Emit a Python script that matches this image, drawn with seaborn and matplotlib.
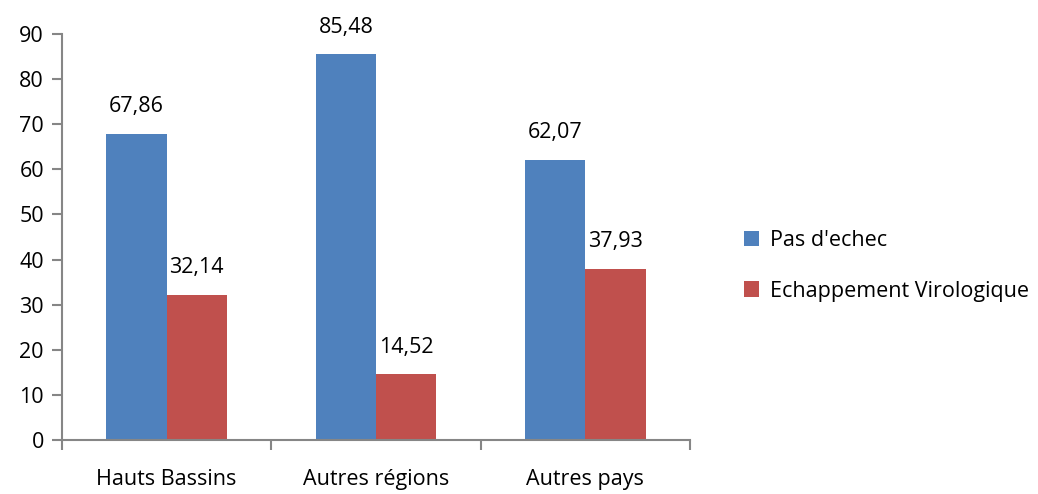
import pandas as pd
import seaborn as sns
import matplotlib
matplotlib.use("Agg")
import matplotlib.pyplot as plt
from matplotlib.ticker import FixedLocator

# --------------------------------------------------------------------------
# Data
# --------------------------------------------------------------------------
CATEGORIES = ["Hauts Bassins", "Autres régions", "Autres pays"]
SERIES = ["Pas d'echec", "Echappement Virologique"]
PAS_ECHEC = [67.86, 85.48, 62.07]
ECHAPPEMENT = [32.14, 14.52, 37.93]
COLORS = ["#4F81BD", "#C0504D"]
AXIS_GREY = "#868686"
FS = 15.5

df = pd.DataFrame({
    "categorie": CATEGORIES * 2,
    "serie": [SERIES[0]] * 3 + [SERIES[1]] * 3,
    "valeur": PAS_ECHEC + ECHAPPEMENT,
})

sns.set_style("white")
plt.rcParams["font.family"] = ["Open Sans", "DejaVu Sans"]
plt.rcParams["text.color"] = "black"
plt.rcParams["xtick.color"] = "black"
plt.rcParams["ytick.color"] = "black"

fig = plt.figure(figsize=(10.38, 4.94), dpi=100)
ax = fig.add_axes([62 / 1038, 54 / 494, (690 - 62) / 1038, (440 - 34) / 494])

sns.barplot(df, x="categorie", y="valeur", hue="serie",
            hue_order=SERIES, palette=COLORS, width=0.575, gap=0,
            saturation=1, edgecolor="none", ax=ax)

for cont in ax.containers:
    ax.bar_label(cont, labels=[f"{v:.2f}".replace(".", ",") for v in cont.datavalues],
                 padding=12, fontsize=FS)

ax.set_ylim(0, 90)
ax.set_xlim(-0.5, 2.5)
ax.set_yticks(range(0, 91, 10))
ax.set_xlabel("")
ax.set_ylabel("")
ax.tick_params(axis="y", labelsize=FS, length=7, color=AXIS_GREY, direction="out",
               left=True, pad=6, width=1.5)
ax.tick_params(axis="x", labelsize=FS, length=0, pad=21)
# tick marks between the categories
ax.xaxis.set_minor_locator(FixedLocator([-0.5, 0.5, 1.5, 2.5]))
ax.tick_params(axis="x", which="minor", length=7, color=AXIS_GREY, direction="out",
               bottom=True, width=1.5)

for side in ["top", "right"]:
    ax.spines[side].set_visible(False)
for side in ["left", "bottom"]:
    ax.spines[side].set_color(AXIS_GREY)
    ax.spines[side].set_linewidth(1.5)

ax.get_legend().remove()
handles, labels = ax.get_legend_handles_labels()
fig.legend(handles, labels, loc="center left", bbox_to_anchor=(725 / 1038, 1 - 266 / 494),
           frameon=False, fontsize=FS, handlelength=0.7, handleheight=0.7,
           handletextpad=0.5, labelspacing=1.35)

fig.savefig("out.png", dpi=100)
